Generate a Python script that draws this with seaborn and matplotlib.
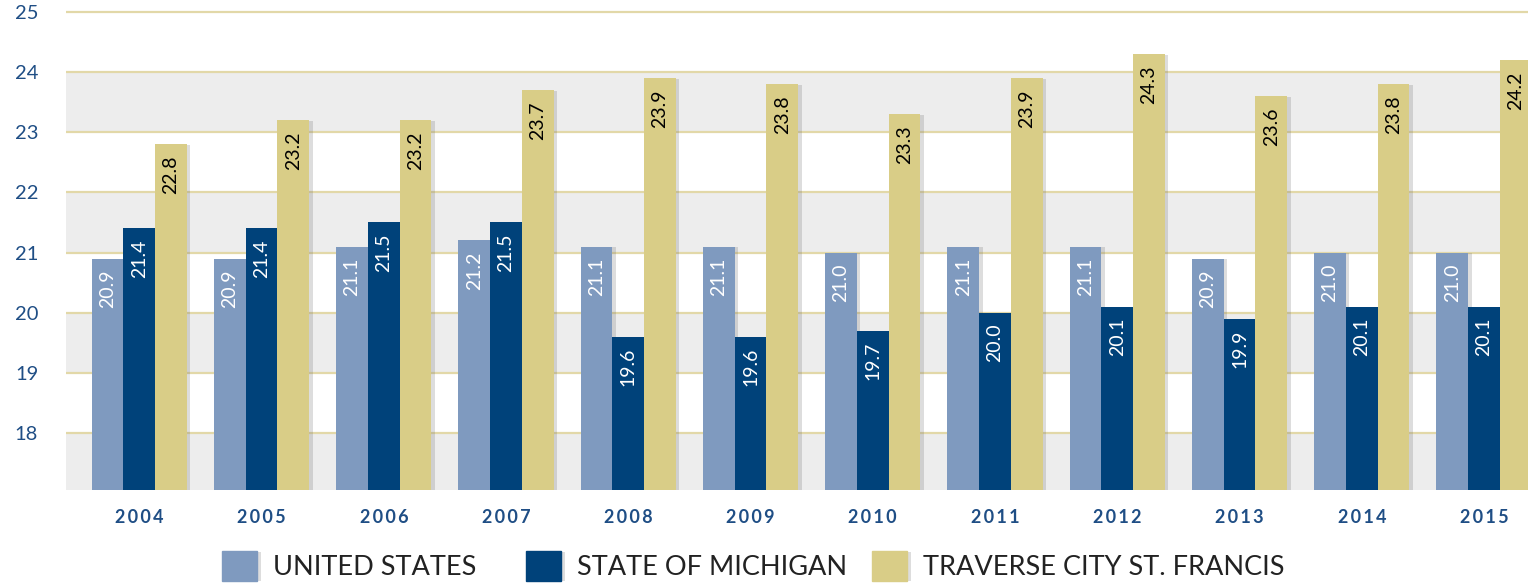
import pandas as pd
import matplotlib.pyplot as plt
import matplotlib.patheffects as pe
from matplotlib.patches import Rectangle
import seaborn as sns

years = ["2004", "2005", "2006", "2007", "2008", "2009",
         "2010", "2011", "2012", "2013", "2014", "2015"]
united_states = [20.9, 20.9, 21.1, 21.2, 21.1, 21.1, 21.0, 21.1, 21.1, 20.9, 21.0, 21.0]
michigan = [21.4, 21.4, 21.5, 21.5, 19.6, 19.6, 19.7, 20.0, 20.1, 19.9, 20.1, 20.1]
traverse_city = [22.8, 23.2, 23.2, 23.7, 23.9, 23.8, 23.3, 23.9, 24.3, 23.6, 23.8, 24.2]
series = ["UNITED STATES", "STATE OF MICHIGAN", "TRAVERSE CITY ST. FRANCIS"]

colors = ["#7f9abf", "#00427a", "#d9cd87"]
label_colors = ["white", "white", "black"]
tick_color = "#1f4e85"

# tabela longa para o seaborn
df = pd.DataFrame({
    "year": years * 3,
    "score": united_states + michigan + traverse_city,
    "series": [s for s in series for _ in years],
})

sns.set_theme(style="white")
plt.rcParams["font.family"] = ["Lato", "DejaVu Sans"]

fig = plt.figure(figsize=(15.28, 5.88), dpi=100)
ax = fig.add_axes([66 / 1528, 1 - 490 / 588, 1 - 66 / 1528, 490 / 588])

ymin, ymax = 17.05, 25.2

# faixas cinza alternadas
for lo, hi in [(ymin, 18), (19, 20), (21, 22), (23, 24)]:
    ax.axhspan(lo, hi, color="#ededed", zorder=0, lw=0)
for y in range(18, 26):
    ax.axhline(y, color="#e2d8a8", lw=1.6, zorder=1)

sns.barplot(data=df, x="year", y="score", hue="series", palette=colors,
            width=0.78, gap=0, saturation=1, legend=False, ax=ax, zorder=2,
            linewidth=0)

shadow = [pe.SimplePatchShadow(offset=(2.5, -0.5), shadow_rgbFace="#666666", alpha=0.22),
          pe.Normal()]

for i, container in enumerate(ax.containers):
    for bar in container:
        bar.set_path_effects(shadow)
        h = bar.get_height()
        ax.annotate(f"{h:.1f}", (bar.get_x() + bar.get_width() / 2, h),
                    xytext=(0, -8), textcoords="offset points",
                    rotation=90, ha="center", va="top",
                    fontsize=14, color=label_colors[i], zorder=3)

ax.set_ylim(ymin, ymax)
ax.set_xlim(-0.6, 11.36)
ax.set_yticks(range(18, 26))
ax.set_xticks(range(len(years)))
ax.set_xticklabels(["\u2009".join(y) for y in years])
ax.set_xlabel("")
ax.set_ylabel("")
for s in ax.spines.values():
    s.set_visible(False)
ax.tick_params(axis="y", length=0, pad=20, labelsize=14.5, labelcolor=tick_color)
ax.tick_params(axis="x", length=0, pad=14, labelsize=13, labelcolor=tick_color)
for t in ax.get_yticklabels():
    t.set_horizontalalignment("right")
for t in ax.get_xticklabels():
    t.set_fontweight("bold")

# legenda: uma entrada por vez, posições como no original
legend_x = [222, 526, 872]
for name, c, lx in zip(series, colors, legend_x):
    h = Rectangle((0, 0), 1, 1, color=c, path_effects=shadow)
    leg = fig.legend([h], [name], loc="upper left",
                     bbox_to_anchor=(lx / 1528, 1 - 551 / 588),
                     frameon=False, fontsize=19.5, handlelength=1.3, handleheight=1.3,
                     handletextpad=0.6, borderpad=0, borderaxespad=0)
    leg.get_texts()[0].set_color("#222222")

fig.savefig("out.png", dpi=100)
